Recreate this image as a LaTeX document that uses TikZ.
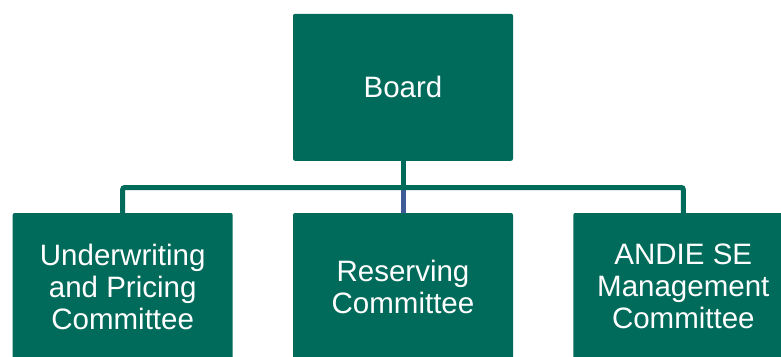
\documentclass[tikz,border=0pt]{standalone}
\usepackage{fontspec}
\setmainfont{Liberation Sans}
\definecolor{boxgreen}{RGB}{0,107,91}
\definecolor{linkblue}{RGB}{62,92,152}
\tikzset{
  orgbox/.style={draw=none, fill=boxgreen, text=white, rounded corners=2pt,
    minimum width=220pt, minimum height=147pt, inner sep=0pt, align=center,
    font=\fontsize{29.5}{32}\selectfont},
  conn/.style={draw=boxgreen, line width=5pt, rounded corners=2pt},
  bconn/.style={draw=linkblue, line width=5pt}
}
\begin{document}
\begin{tikzpicture}[x=1pt,y=1pt]
\useasboundingbox (0,0) rectangle (781,-356);
\begin{scope}
\clip (0,0) rectangle (781,-356);
\node[orgbox] (board) at (403,-87.3) {Board};
\node[orgbox] (uw) at (122.7,-286.5) {Underwriting\\and Pricing\\Committee};
\node[orgbox] (res) at (403,-286.5) {Reserving\\Committee};
\node[orgbox] (andie) at (683.3,-286.5) {ANDIE SE\\Management\\Committee};
\coordinate (j) at (403,-187.5);
\draw[bconn] (j) -- (res.north);
\draw[conn] (board.south) -- (j);
\draw[conn] (j) -| (uw.north);
\draw[conn] (j) -| (andie.north);
\end{scope}
\end{tikzpicture}
\end{document}
